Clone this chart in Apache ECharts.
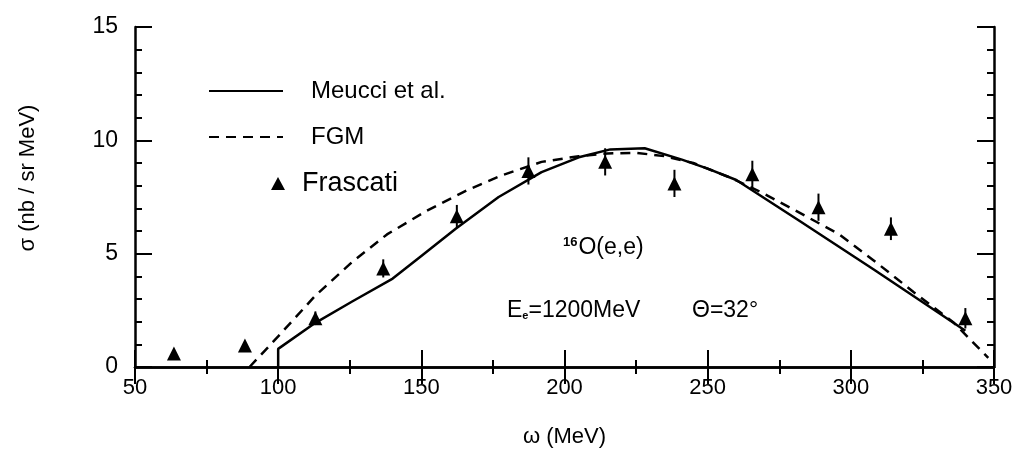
<!DOCTYPE html>
<html lang="en">
<head>
    <meta charset="UTF-8">
    <title>16O(e,e) cross section</title>
</head>
<body style="margin:0;background:#fff">
<div id="container" style="width:1019px;height:456px"></div>

<script type="text/javascript" src="https://cdn.jsdelivr.net/npm/echarts@6/dist/echarts.min.js"></script>
<script type="text/javascript">
    // x axis ticks
    var omegaTicks = [50, 100, 150, 200, 250, 300, 350];
    var sigmaTicks = [0, 5, 10, 15];

    // Frascati data (triangles with error bars)
    var expOmega = [63.6, 88.4, 113, 136.7, 162.4, 187.4, 214.2, 238.4, 265.6, 288.7, 314, 340];
    var expSigma = [0.6, 0.95, 2.15, 4.35, 6.65, 8.65, 9.05, 8.1, 8.5, 7.05, 6.1, 2.15];
    var expError = [0, 0, 0.3, 0.4, 0.5, 0.6, 0.6, 0.6, 0.6, 0.6, 0.5, 0.45];

    // Meucci et al. (solid)
    var meucciOmega = [100, 100, 113, 126, 140, 150, 162, 177, 192, 205, 216, 228, 241, 250, 260, 282, 308, 340];
    var meucciSigma = [0, 0.8, 1.95, 2.9, 3.9, 4.9, 6.1, 7.5, 8.6, 9.25, 9.6, 9.65, 9.15, 8.75, 8.25, 6.45, 4.3, 1.6];

    // FGM (dashed)
    var fgmOmega = [90, 100, 113, 126, 138, 152, 166, 178, 192, 205, 215, 225, 235, 245, 258, 268, 280, 296, 310, 322, 336, 348];
    var fgmSigma = [0, 1.35, 3.15, 4.65, 5.85, 6.9, 7.8, 8.45, 9.05, 9.3, 9.42, 9.45, 9.3, 9.0, 8.35, 7.75, 6.95, 5.85, 4.5, 3.3, 1.95, 0.4];

    var ink = '#000';
    var clear = 'rgba(0,0,0,0)';
    var fontName = 'Liberation Sans';

    function pairs(xs, ys) {
        return xs.map(function (x, i) { return [x, ys[i]]; });
    }

    var dom = document.getElementById("container");
    var myChart = echarts.init(dom);

    var axisCommon = {
        type: 'value',
        axisLine: {show: true, lineStyle: {color: ink, width: 2.5}},
        axisTick: {show: true, inside: true, length: 17, lineStyle: {color: ink, width: 2}},
        minorTick: {show: true, length: 7, lineStyle: {color: ink, width: 2}},
        splitLine: {show: false}
    };

    var option = {
        animation: false,
        backgroundColor: '#fff',
        grid: {left: 135, top: 27, right: 25, bottom: 89},
        xAxis: [
            echarts.util.merge({
                position: 'bottom',
                min: omegaTicks[0],
                max: omegaTicks[omegaTicks.length - 1],
                interval: 50,
                minorTick: {splitNumber: 2},
                axisLabel: {color: ink, fontSize: 22, fontFamily: fontName, margin: 10},
                name: 'ω (MeV)',
                nameLocation: 'middle',
                nameGap: 59,
                nameTextStyle: {color: ink, fontSize: 22, fontFamily: fontName}
            }, axisCommon, false),
            echarts.util.merge({
                position: 'top',
                min: omegaTicks[0],
                max: omegaTicks[omegaTicks.length - 1],
                interval: 50,
                minorTick: {splitNumber: 2},
                axisLabel: {show: false}
            }, axisCommon, false)
        ],
        yAxis: [
            echarts.util.merge({
                position: 'left',
                min: sigmaTicks[0],
                max: sigmaTicks[sigmaTicks.length - 1],
                interval: 5,
                minorTick: {splitNumber: 5},
                axisLabel: {color: ink, fontSize: 23, fontFamily: fontName, margin: 17},
                name: 'σ (nb / sr MeV)',
                nameLocation: 'middle',
                nameGap: 96,
                nameTextStyle: {color: ink, fontSize: 22, fontFamily: fontName, padding: [0, 0, 0, 38]}
            }, axisCommon, false),
            echarts.util.merge({
                position: 'right',
                min: sigmaTicks[0],
                max: sigmaTicks[sigmaTicks.length - 1],
                interval: 5,
                minorTick: {splitNumber: 5},
                axisLabel: {show: false}
            }, axisCommon, false)
        ],
        legend: [
            {
                left: 208, top: 79, padding: 0, itemWidth: 74, itemHeight: 14,
                data: ['Meucci et al.'],
                itemStyle: {color: clear, borderColor: clear, borderWidth: 0},
                textStyle: {color: ink, fontSize: 24, fontFamily: fontName, padding: [0, 0, 0, 23]}
            },
            {
                left: 208, top: 125, padding: 0, itemWidth: 74, itemHeight: 14,
                data: ['FGM'],
                itemStyle: {color: clear, borderColor: clear, borderWidth: 0},
                textStyle: {color: ink, fontSize: 24, fontFamily: fontName, padding: [0, 0, 0, 23]}
            },
            {
                left: 271, top: 170, padding: 0, itemWidth: 14, itemHeight: 13,
                data: [{name: 'Frascati', icon: 'triangle'}],
                itemStyle: {color: ink, opacity: 1},
                textStyle: {color: ink, fontSize: 27, fontFamily: fontName, padding: [0, 0, 0, 12]}
            }
        ],
        graphic: [
            {
                type: 'text', left: 563, top: 236,
                style: {
                    text: '{sup|16}O(e,e)',
                    fill: ink,
                    font: '23px ' + fontName,
                    rich: {sup: {fontSize: 13, fontWeight: 'bold', verticalAlign: 'top', padding: [0, 1, 10, 0]}}
                }
            },
            {
                type: 'text', left: 507, top: 299,
                style: {
                    text: 'E{sub|e}=1200MeV',
                    fill: ink,
                    font: '23px ' + fontName,
                    rich: {sub: {fontSize: 11, fontWeight: 'bold', padding: [10, 0, 0, 0]}}
                }
            },
            {
                type: 'text', left: 692, top: 299,
                style: {
                    text: 'Θ=32°',
                    fill: ink,
                    font: '23px ' + fontName
                }
            }
        ],
        series: [
            {
                type: 'line',
                name: 'Meucci et al.',
                data: pairs(meucciOmega, meucciSigma),
                symbol: 'none',
                lineStyle: {color: ink, width: 2.5},
                itemStyle: {color: ink}
            },
            {
                type: 'line',
                name: 'FGM',
                data: pairs(fgmOmega, fgmSigma),
                symbol: 'none',
                lineStyle: {color: ink, width: 2.5, type: [10, 7]},
                itemStyle: {color: ink}
            },
            {
                type: 'custom',
                name: 'Frascati errors',
                data: expOmega.map(function (x, i) {
                    return [x, expSigma[i] - expError[i], expSigma[i] + expError[i]];
                }),
                renderItem: function (params, api) {
                    var p1 = api.coord([api.value(0), api.value(1)]);
                    var p2 = api.coord([api.value(0), api.value(2)]);
                    return {
                        type: 'line',
                        shape: {x1: p1[0], y1: p1[1], x2: p2[0], y2: p2[1]},
                        style: {stroke: ink, lineWidth: 2}
                    };
                },
                z: 3
            },
            {
                type: 'scatter',
                name: 'Frascati',
                data: pairs(expOmega, expSigma),
                symbol: 'triangle',
                symbolSize: 14,
                itemStyle: {color: ink, opacity: 1},
                z: 4
            }
        ]
    };

    myChart.setOption(option, true);
</script>
</body>
</html>
